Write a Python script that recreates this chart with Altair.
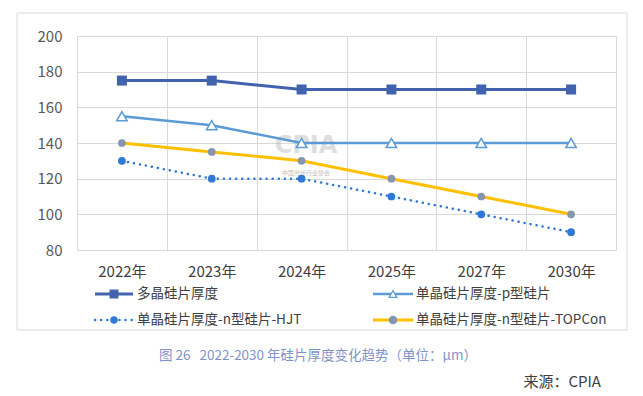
import altair as alt
import pandas as pd

years = ["2022年", "2023年", "2024年", "2025年", "2027年", "2030年"]
series_names = ["多晶硅片厚度", "单晶硅片厚度-p型硅片", "单晶硅片厚度-n型硅片-HJT", "单晶硅片厚度-n型硅片-TOPCon"]
poly = [175, 175, 170, 170, 170, 170]
mono_p = [155, 150, 140, 140, 140, 140]
mono_hjt = [130, 120, 120, 110, 100, 90]
mono_topcon = [140, 135, 130, 120, 110, 100]
y_ticks = [80, 100, 120, 140, 160, 180, 200]
caption = "图 26\u00a0\u00a0\u00a02022-2030 年硅片厚度变化趋势（单位：μm）"
source = "来源：CPIA"

FONT = "Noto Sans CJK SC"
W, H = 539, 214

def df_of(vals):
    return pd.DataFrame({"year": years, "v": vals})

xenc = alt.X("year:N", sort=years, title=None,
             scale=alt.Scale(paddingInner=0, paddingOuter=0),
             axis=alt.Axis(labelAngle=0, labelFontSize=15, labelColor="#404040", labelFont=FONT,
                           labelPadding=14, ticks=False, domain=False, grid=True,
                           tickBand="extent", gridColor="#d9d9d9", gridWidth=1))
yenc = alt.Y("v:Q", title=None,
             scale=alt.Scale(domain=[80, 200], nice=False, zero=False),
             axis=alt.Axis(values=y_ticks, labelFontSize=15, labelColor="#595959", labelFont=FONT,
                           labelPadding=15, ticks=False, domain=False, grid=True,
                           gridColor="#d9d9d9", gridWidth=1))

def dummy():
    return alt.Data(values=[{"a": 1}])

layers = []

# series
d1 = df_of(poly)
layers.append(alt.Chart(d1).mark_line(color="#4162AC", strokeWidth=3).encode(x=xenc, y=yenc))
layers.append(alt.Chart(d1).mark_point(shape="square", filled=True, color="#4162AC", size=100, opacity=1).encode(x=xenc, y=yenc))

# outer frame
layers.append(alt.Chart(dummy()).mark_rect(filled=False, stroke="#d9d9d9", strokeWidth=1).encode(
    x=alt.value(-60), x2=alt.value(550), y=alt.value(-23), y2=alt.value(294)))

# watermark
layers.append(alt.Chart(dummy()).mark_text(text="CPIA", font="DejaVu Sans", fontWeight="bold", fontSize=24,
                                            color="#b8b8b8", opacity=0.45).encode(
    x=alt.value(229), y=alt.value(110)))
layers.append(alt.Chart(dummy()).mark_text(text="中国光伏行业协会", font=FONT, fontSize=6,
                                            color="#909090", opacity=0.6).encode(
    x=alt.value(229), y=alt.value(137)))

d2 = df_of(mono_p)
layers.append(alt.Chart(d2).mark_line(color="#5B9BD5", strokeWidth=2.5).encode(x=xenc, y=yenc))
layers.append(alt.Chart(d2).mark_point(shape="triangle-up", filled=True, fill="white", stroke="#5B9BD5",
                                       strokeWidth=1.5, size=110, opacity=1).encode(x=xenc, y=yenc))

d3 = df_of(mono_hjt)
layers.append(alt.Chart(d3).mark_line(color="#2F78D6", strokeWidth=2.5, strokeDash=[0.1, 6], strokeCap="round").encode(x=xenc, y=yenc))
layers.append(alt.Chart(d3).mark_point(shape="circle", filled=True, color="#2F78D6", size=60, opacity=1).encode(x=xenc, y=yenc))

d4 = df_of(mono_topcon)
layers.append(alt.Chart(d4).mark_line(color="#FFC000", strokeWidth=3).encode(x=xenc, y=yenc))
layers.append(alt.Chart(d4).mark_point(shape="circle", filled=True, color="#8696AF", size=60, opacity=1).encode(x=xenc, y=yenc))

# legend: (symbol start x, row y, symbol length, text x)
legend_items = [
    (18, 258, 38, 60, series_names[0], "#4162AC", 3, None, "square", "#4162AC", "#4162AC", 60),
    (296, 258, 40, 339, series_names[1], "#5B9BD5", 2.5, None, "triangle-up", "white", "#5B9BD5", 60),
    (18, 284, 38, 60, series_names[2], "#2F78D6", 2.5, [0.1, 6], "circle", "#2F78D6", "#2F78D6", 40),
    (296, 284, 40, 339, series_names[3], "#FFC000", 3, None, "circle", "#8696AF", "#8696AF", 55),
]
for (lx, ly, ll, tx, name, lc, lw, dash, shp, fill, stroke, sz) in legend_items:
    rule_kw = dict(color=lc, strokeWidth=lw)
    if dash:
        rule_kw.update(strokeDash=dash, strokeCap="round")
    layers.append(alt.Chart(dummy()).mark_rule(**rule_kw).encode(
        x=alt.value(lx), x2=alt.value(lx + ll), y=alt.value(ly)))
    layers.append(alt.Chart(dummy()).mark_point(shape=shp, filled=True, fill=fill, stroke=stroke,
                                                strokeWidth=1.2, size=sz, opacity=1).encode(
        x=alt.value(lx + ll / 2), y=alt.value(ly)))
    layers.append(alt.Chart(dummy()).mark_text(text=name, font=FONT, fontSize=13.5, color="#404040",
                                                align="left", baseline="middle").encode(
        x=alt.value(tx), y=alt.value(ly)))

# caption & source
layers.append(alt.Chart(dummy()).mark_text(text=caption, font=FONT, fontSize=13.5, color="#7F93C8",
                                            align="center", baseline="middle").encode(
    x=alt.value(241), y=alt.value(320)))
layers.append(alt.Chart(dummy()).mark_text(text=source, font=FONT, fontSize=15, color="#404040",
                                            align="right", baseline="middle").encode(
    x=alt.value(524), y=alt.value(346)))

chart = alt.layer(*layers).properties(
    width=W, height=H,
    autosize=alt.AutoSizeParams(type="none"),
    padding={"left": 69, "top": 28, "right": 14, "bottom": 146},
).configure_view(stroke="#d9d9d9", strokeWidth=1).configure(background="white")

chart.save("out.html", embed_options={"renderer": "svg", "actions": False})
